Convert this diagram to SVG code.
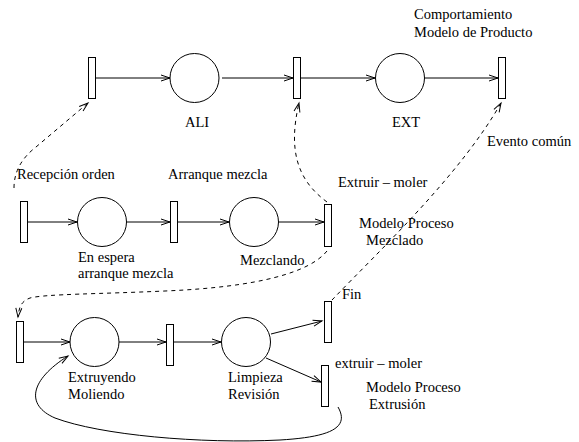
<svg xmlns="http://www.w3.org/2000/svg" width="579" height="442" viewBox="0 0 579 442" font-family="'Liberation Serif', 'DejaVu Serif', serif" font-size="14.5">
<style>
.t{fill:#fff;stroke:#000;stroke-width:1}
.p{fill:#fff;stroke:#000;stroke-width:1}
.a{fill:none;stroke:#000;stroke-width:1;marker-end:url(#ah)}
.d{fill:none;stroke:#000;stroke-width:1;stroke-dasharray:4,4;marker-end:url(#ah)}
.lbl{font-family:'Liberation Serif','DejaVu Serif',serif;font-size:14.5px;fill:#000}
</style>
<defs>
<marker id="ah" markerUnits="userSpaceOnUse" markerWidth="12" markerHeight="10" refX="10" refY="5" orient="auto" viewBox="0 0 12 10">
<path d="M1,2 L10,5 L1,8" fill="none" stroke="#000" stroke-width="1"/>
</marker>
</defs>
<g id="connectors">
<path class="a" d="M96,78 L170,78"/>
<path class="a" d="M222,78 L293,78"/>
<path class="a" d="M301,78 L375,78"/>
<path class="a" d="M425,78 L498,78"/>
<path class="a" d="M28,222 L77,222"/>
<path class="a" d="M127,222 L170,222"/>
<path class="a" d="M178,222 L229,222"/>
<path class="a" d="M279,222 L324,222"/>
<path class="a" d="M24,342 L70,342"/>
<path class="a" d="M119,342 L166,342"/>
<path class="a" d="M174,342 L221,342"/>
<path class="a" d="M271,334 L322,321"/>
<path class="a" d="M266,358 L321,382"/>
<path class="a" d="M338,407 C350,428 330,437 280,440 C200,444 100,435 55,418 C25,405 30,380 68,356"/>
<path class="d" d="M14,188 Q14,164 36,147 L88,103"/>
<path class="d" d="M327,202 C297,180 288,150 299,103"/>
<path class="d" d="M327,251 C310,272 260,287 165,291 C100,294 45,294 30,298 C22,301 19,306 18,317"/>
<path class="d" d="M332,300 C380,250 460,175 501,103"/>
</g>
<g id="T1"><rect class="t" x="88.5" y="57.5" width="7" height="41"/></g>
<g id="ALI"><circle class="p" cx="194.5" cy="78" r="24.5"/><text class="lbl" x="185" y="127">ALI</text></g>
<g id="T2"><rect class="t" x="293.5" y="57.5" width="7" height="41"/></g>
<g id="EXT"><circle class="p" cx="400" cy="78" r="24.5"/><text class="lbl" x="392" y="127">EXT</text></g>
<g id="T3"><rect class="t" x="498.5" y="57.5" width="7" height="41"/></g>
<g id="T4"><rect class="t" x="20.5" y="201.5" width="7" height="41"/></g>
<g id="P_espera"><circle class="p" cx="102" cy="222" r="24.5"/><text class="lbl" x="78" y="262">En espera</text><text class="lbl" x="78" y="278">arranque mezcla</text></g>
<g id="T5"><rect class="t" x="170.5" y="201.5" width="7" height="41"/></g>
<g id="P_mezclando"><circle class="p" cx="254" cy="222" r="24.5"/><text class="lbl" x="240" y="265">Mezclando</text></g>
<g id="T6"><rect class="t" x="324.5" y="204.5" width="7" height="42"/></g>
<g id="T7"><rect class="t" x="16.5" y="321.5" width="7" height="41"/></g>
<g id="P_extruyendo"><circle class="p" cx="94.5" cy="342" r="24.5"/><text class="lbl" x="68" y="382">Extruyendo</text><text class="lbl" x="68" y="399">Moliendo</text></g>
<g id="T9"><rect class="t" x="166.5" y="324.5" width="7" height="41"/></g>
<g id="P_limpieza"><circle class="p" cx="246" cy="342" r="24.5"/><text class="lbl" x="228" y="382">Limpieza</text><text class="lbl" x="228" y="399">Revisión</text></g>
<g id="T8"><rect class="t" x="324.5" y="301.5" width="7" height="41"/></g>
<g id="T10"><rect class="t" x="321.5" y="365.5" width="7" height="41"/></g>
<g id="labels">
<text class="lbl" x="414" y="19">Comportamiento</text>
<text class="lbl" x="414" y="37">Modelo de Producto</text>
<text class="lbl" x="487" y="146">Evento común</text>
<text class="lbl" x="17" y="179">Recepción orden</text>
<text class="lbl" x="168" y="179">Arranque mezcla</text>
<text class="lbl" x="338" y="187">Extruir – moler</text>
<text class="lbl" x="359" y="228">Modelo Proceso</text>
<text class="lbl" x="366" y="245">Mezclado</text>
<text class="lbl" x="342" y="299">Fin</text>
<text class="lbl" x="335" y="368">extruir – moler</text>
<text class="lbl" x="366" y="392">Modelo Proceso</text>
<text class="lbl" x="369" y="409">Extrusión</text>
</g>
</svg>
